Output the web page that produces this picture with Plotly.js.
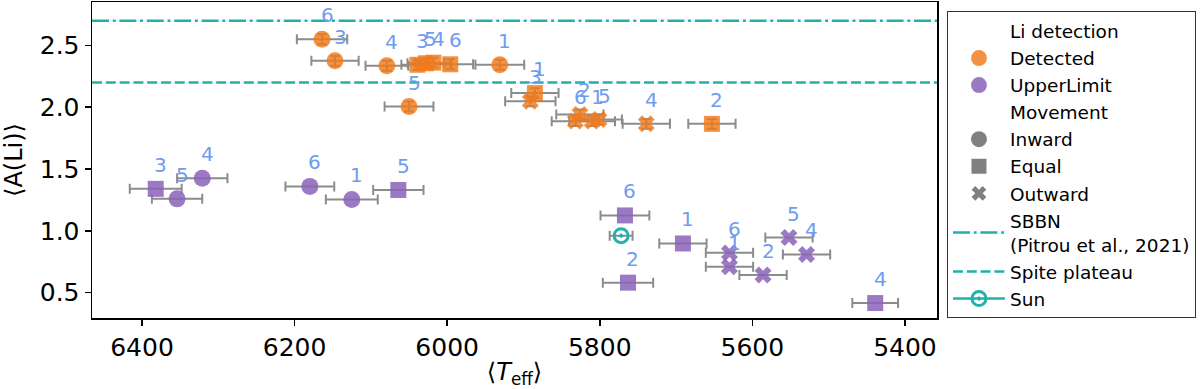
<!DOCTYPE html>
<html>
<head>
<meta charset="utf-8">
<script src="https://cdn.plot.ly/plotly-3.0.1.min.js"></script>
<style>html,body{margin:0;padding:0;background:#fff;}#chart{width:1200px;height:389px;}</style>
</head>
<body>
<div id="chart"></div>
<script>
// ---- Detected Li (orange) ----
const detTeff    = [6164, 6147, 6079, 6039, 6028, 6018, 5996, 5931, 6050, 5885, 5891, 5832, 5826, 5810, 5801, 5739, 5653];
const detTeffErr = [33, 31, 28, 21, 24, 24, 30, 32, 32, 31, 33, 31, 31, 30, 30, 31, 31];
const detALi     = [2.55, 2.375, 2.335, 2.343, 2.355, 2.36, 2.347, 2.343, 2.005, 2.114, 2.048, 1.887, 1.941, 1.887, 1.90, 1.865, 1.865];
const detALiErr  = [0.04, 0.04, 0.04, 0.04, 0.04, 0.04, 0.04, 0.04, 0.04, 0.04, 0.04, 0.04, 0.04, 0.04, 0.04, 0.04, 0.04];
const detMove    = ['Inward','Inward','Inward','Equal','Equal','Equal','Equal','Inward','Inward','Equal','Outward','Outward','Outward','Outward','Outward','Outward','Equal'];
const detLabel   = ['6','3','4','3','5','4','6','1','5','1','3','6','2','1','5','4','2'];

// ---- Upper limits (purple) ----
const ulTeff    = [6382, 6354, 6321, 6180, 6125, 6064, 5767, 5763, 5691, 5630, 5630, 5586, 5552, 5529, 5439];
const ulTeffErr = [34, 33, 33, 32, 34, 33, 32, 33, 31, 31, 31, 31, 31, 31, 30];
const ulALi     = [1.339, 1.258, 1.424, 1.359, 1.253, 1.330, 1.124, 0.580, 0.897, 0.821, 0.709, 0.642, 0.945, 0.808, 0.415];
const ulMove    = ['Equal','Inward','Inward','Inward','Inward','Equal','Equal','Equal','Equal','Outward','Outward','Outward','Outward','Outward','Equal'];
const ulLabel   = ['3','5','4','6','1','5','6','2','1','6','1','2','5','4','4'];

// ---- Sun & reference levels ----
const sunTeff = [5772];
const sunTeffErr = [15];
const sunALi = [0.96];
const sbbnLevel = 2.70;
const spiteLevel = 2.20;

// ---- axes ----
const xRange = [6465.5, 5358];
const yRange = [0.294, 2.851];
const xTicks = [6400, 6200, 6000, 5800, 5600, 5400];
const yTicks = [0.5, 1.0, 1.5, 2.0, 2.5];
const yTickText = ['0.5', '1.0', '1.5', '2.0', '2.5'];

const ORANGE = '#f27a1a';
const PURPLE = '#8a63b8';
const TEAL = '#20b2aa';
const GRAYM = '#808080';
const LABELC = '#6f9cf0';
const symOf = {Inward: 'circle', Equal: 'square', Outward: 'x'};
const sizeOf = {Inward: 17, Equal: 16, Outward: 15};
const FONT = 'DejaVu Sans, sans-serif';

const errStyle = {color: '#8c8c8c', thickness: 2, width: 5};

const traces = [];
// data traces
traces.push({
  x: detTeff, y: detALi, type: 'scatter', mode: 'markers', showlegend: false, hoverinfo: 'skip',
  error_x: Object.assign({type: 'data', array: detTeffErr, visible: true}, errStyle),
  error_y: Object.assign({type: 'data', array: detALiErr, visible: true}, errStyle),
  marker: {color: ORANGE, opacity: 0.82, symbol: detMove.map(m => symOf[m]), size: detMove.map(m => sizeOf[m]), line: {width: 0}}
});
traces.push({
  x: ulTeff, y: ulALi, type: 'scatter', mode: 'markers', showlegend: false, hoverinfo: 'skip',
  error_x: Object.assign({type: 'data', array: ulTeffErr, visible: true}, errStyle),
  marker: {color: PURPLE, opacity: 0.85, symbol: ulMove.map(m => symOf[m]), size: ulMove.map(m => sizeOf[m]), line: {width: 0}}
});

// legend entries
const blank = {x: [null], y: [null], type: 'scatter', mode: 'markers', hoverinfo: 'skip'};
const clear = {color: 'rgba(0,0,0,0)', size: 16, line: {width: 0, color: 'rgba(0,0,0,0)'}};
traces.push(Object.assign({}, blank, {name: 'Li detection', marker: clear}));
traces.push(Object.assign({}, blank, {name: 'Detected', marker: {color: ORANGE, opacity: 0.82, size: 16, symbol: 'circle'}}));
traces.push(Object.assign({}, blank, {name: 'UpperLimit', marker: {color: PURPLE, opacity: 0.85, size: 16, symbol: 'circle'}}));
traces.push(Object.assign({}, blank, {name: 'Movement', marker: clear}));
traces.push(Object.assign({}, blank, {name: 'Inward', marker: {color: GRAYM, size: 16, symbol: 'circle'}}));
traces.push(Object.assign({}, blank, {name: 'Equal', marker: {color: GRAYM, size: 15, symbol: 'square'}}));
traces.push(Object.assign({}, blank, {name: 'Outward', marker: {color: GRAYM, size: 13, symbol: 'x'}}));

traces.push({x: xRange, y: [sbbnLevel, sbbnLevel], type: 'scatter', mode: 'lines', hoverinfo: 'skip',
  name: 'SBBN<br>(Pitrou et al., 2021)', line: {color: TEAL, width: 2.5, dash: '17px,3.7px,3px,3.7px'}});
traces.push({x: xRange, y: [spiteLevel, spiteLevel], type: 'scatter', mode: 'lines', hoverinfo: 'skip',
  name: 'Spite plateau', line: {color: TEAL, width: 2.5, dash: '10px,3.8px'}});
traces.push({x: sunTeff, y: sunALi, type: 'scatter', mode: 'lines+markers', hoverinfo: 'skip', name: 'Sun',
  error_x: Object.assign({type: 'data', array: sunTeffErr, visible: true}, errStyle),
  line: {color: TEAL, width: 2.5},
  marker: {symbol: 'circle-open-dot', size: 14, color: TEAL, line: {width: 3, color: TEAL}}});

// point labels
const annotations = [];
function addLabels(xs, ys, labels) {
  for (let i = 0; i < xs.length; i++) {
    annotations.push({x: xs[i], y: ys[i], xref: 'x', yref: 'y', text: labels[i], showarrow: false,
      xshift: 5, yshift: 24, font: {family: FONT, size: 20, color: LABELC}});
  }
}
addLabels(detTeff, detALi, detLabel);
addLabels(ulTeff, ulALi, ulLabel);

const layout = {
  width: 1200, height: 389,
  margin: {l: 92, r: 263, t: 2, b: 71, pad: 0},
  paper_bgcolor: '#fff', plot_bgcolor: '#fff',
  font: {family: FONT, color: '#000'},
  showlegend: true,
  xaxis: {
    range: xRange, tickvals: xTicks, ticks: 'outside', ticklen: 6, tickwidth: 1.5, tickcolor: '#000',
    tickfont: {family: FONT, size: 25, color: '#000'},
    showline: true, mirror: true, linecolor: '#000', linewidth: 1.5,
    showgrid: false, zeroline: false, automargin: false,
    title: {text: '⟨<i>T</i><sub>eff</sub>⟩', font: {family: FONT, size: 24, color: '#000'}, standoff: 16}
  },
  yaxis: {
    range: yRange, tickvals: yTicks, ticktext: yTickText, ticks: 'outside', ticklen: 6, tickwidth: 1.5, tickcolor: '#000',
    tickfont: {family: FONT, size: 25, color: '#000'},
    showline: true, mirror: true, linecolor: '#000', linewidth: 1.5,
    showgrid: false, zeroline: false, automargin: false,
    title: {text: '⟨A(Li)⟩', font: {family: FONT, size: 24, color: '#000'}, standoff: 12}
  },
  legend: {
    x: 1.0118, y: 0.97, xanchor: 'left', yanchor: 'top',
    bgcolor: '#fff', bordercolor: '#333', borderwidth: 1,
    font: {family: FONT, size: 18.5, color: '#000'},
    itemwidth: 52, tracegroupgap: 0, itemclick: false, itemdoubleclick: false
  },
  annotations: annotations
};

Plotly.newPlot('chart', traces, layout, {staticPlot: true, displayModeBar: false});
</script>
</body>
</html>
